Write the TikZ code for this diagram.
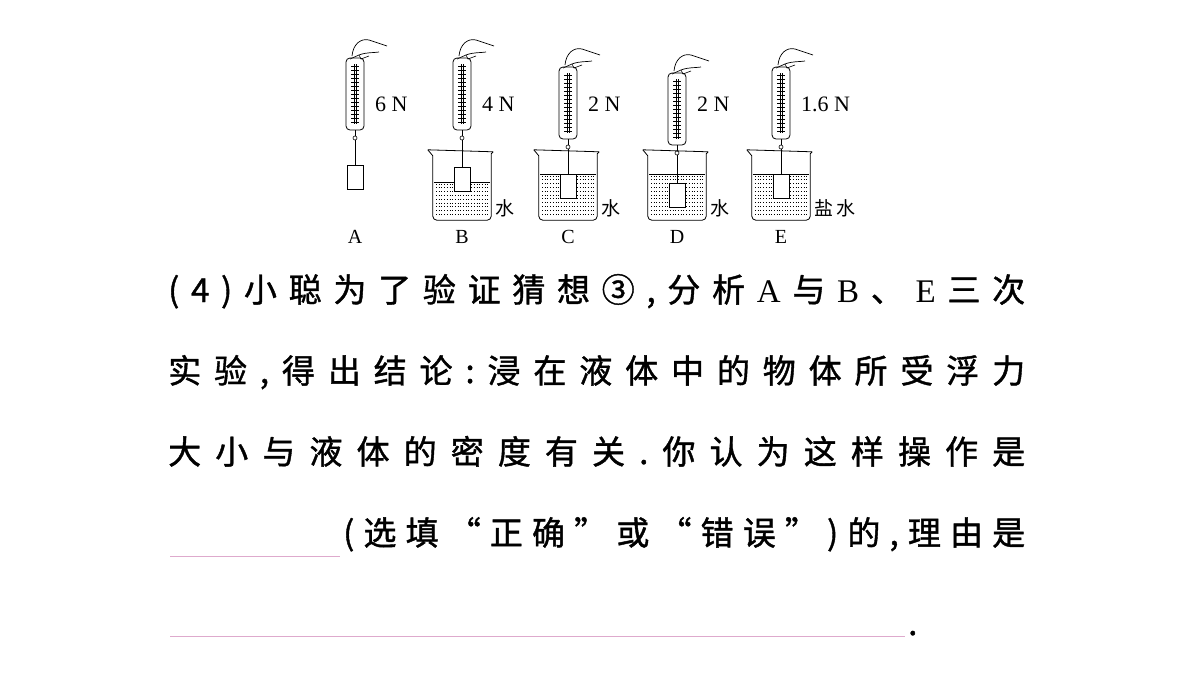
\documentclass[tikz,border=0pt]{standalone}
\usepackage{fontspec}
\setmainfont{Liberation Serif}
\newfontfamily\cjk[FakeBold=1.2]{Noto Sans CJK SC}
\newfontfamily\cjklabel{Noto Sans CJK SC}
\usetikzlibrary{positioning, calc}
\definecolor{blankline}{RGB}{222,170,205}
\ExplSyntaxOn
\NewDocumentCommand\spreadline{mm}{\makebox[#1][s]{\tl_map_inline:nn{#2}{##1\hfil}\unskip}}
\ExplSyntaxOff
\newcommand\serifA{{\rmfamily A}}
\newcommand\serifB{{\rmfamily B}}
\newcommand\serifE{{\rmfamily E}}
\tikzset{
  scalebody/.style={draw, rounded corners=4pt, minimum width=18pt, minimum height=72pt, inner sep=0pt, line width=0.8pt},
  block/.style={draw, fill=white, minimum width=16pt, minimum height=24pt, inner sep=0pt, line width=0.8pt},
  tag/.style={font=\fontsize{20pt}{20pt}\selectfont, inner sep=0pt},
  textline/.style={anchor=base west, inner sep=0pt, font=\fontsize{33pt}{33pt}\cjk},
}
\begin{document}
\begin{tikzpicture}[x=1pt, y=-1pt]
  \useasboundingbox (0,0) rectangle (1200,675);
  % cx / top of scale / top of block / letter / reading
  \foreach \cx/\st/\bt/\lt/\rd in {355/58/165/A/6 N, 462/58/167/B/4 N, 568/67/174/C/2 N, 677/73/183/D/2 N, 781/67/174/E/1.6 N}{
    % spring scale and hand
    \node (Scale\lt) at (\cx,\st+36) [scalebody] {};
    \draw[line width=0.6pt] (\cx-1,\st+6) -- (\cx-1,\st+66);
    \draw[line width=0.6pt] (\cx+1,\st+6) -- (\cx+1,\st+66);
    \foreach \k in {0,...,14}{ \draw[line width=0.4pt] (\cx-4,\st+8+\k*4) -- (\cx+4,\st+8+\k*4); }
    \draw[line width=0.7pt] (\cx-3,\st-2) .. controls (\cx-2,\st-14) and (\cx+6,\st-20) .. (\cx+14,\st-18)
      .. controls (\cx+20,\st-16) and (\cx+26,\st-14) .. (\cx+32,\st-12);
    \draw[line width=0.7pt] (\cx-5,\st+1) -- (\cx+4,\st-3) .. controls (\cx+12,\st-6) and (\cx+18,\st-5) .. (\cx+24,\st-6);
    \draw[line width=0.6pt] (\cx+4,\st-3) -- (\cx+6,\st+1) -- (\cx+14,\st-2);
    \node (Hook\lt) at (\cx,\st+80) [circle, draw, minimum size=4pt, inner sep=0pt, line width=0.6pt] {};
    \draw[line width=0.7pt] (Scale\lt.south) -- (Hook\lt.north);
    \node (Reading\lt) at (\cx+20,104) [tag, anchor=west, font=\fontsize{22pt}{22pt}\selectfont] {\rd};
    % block hanging on string
    \node (Block\lt) at (\cx,\bt+12) [block] {};
    \draw[line width=0.7pt] (Hook\lt.south) -- (Block\lt.north);
    \node (Letter\lt) at (\cx,237) [tag] {\lt};
  }
  % beakers with liquid
  \foreach \cx/\wl/\lt/\lq in {462/182/B/水, 568/174/C/水, 677/174/D/水, 781/174/E/盐\,水}{
    \foreach \k in {0,...,10}{
      \pgfmathsetmacro\yy{\wl+2+\k*3.8}
      \ifdim\yy pt<218pt
        \draw[dotted, line width=0.7pt] (\cx-26,\yy) -- (\cx+26,\yy);
      \fi
    }
    \draw[line width=0.7pt] (\cx-28,\wl) -- (\cx+28,\wl);
    \node (Beaker\lt) at (\cx,186) [minimum width=58pt, minimum height=68pt, inner sep=0pt] {};
    \draw[line width=0.8pt] ($(Beaker\lt.north west)+(-5,-2)$) -- ($(Beaker\lt.north west)+(0,4)$)
      -- ($(Beaker\lt.south west)+(0,-4)$) arc[start angle=180, end angle=270, radius=4pt]
      -- ($(Beaker\lt.south east)+(-4,0)$) arc[start angle=270, end angle=360, radius=4pt]
      -- ($(Beaker\lt.north east)+(0,2)$) -- ($(Beaker\lt.north east)+(2,0)$);
    \draw[line width=0.8pt] ($(Beaker\lt.north west)+(-5,-2)$) -- ($(Beaker\lt.north east)+(2,0)$);
    \node (Liquid\lt) at ($(Beaker\lt.south east)+(4,-12)$) [anchor=west, inner sep=0pt, font=\fontsize{19pt}{19pt}\cjklabel] {\lq};
  }
  % redraw blocks above the liquid
  \foreach \cx/\bt in {462/167, 568/174, 677/183, 781/174}{
    \node at (\cx,\bt+12) [block] {};
  }
  % question text
  \node (LineOne) at (168,302) [textline] {\spreadline{857pt}{(4)小聪为了验证猜想③,分析{\serifA}与{\serifB}、{\serifE}三次}};
  \node (LineTwo) at (168,383) [textline] {\spreadline{857pt}{实验,得出结论:浸在液体中的物体所受浮力}};
  \node (LineThree) at (168,464) [textline] {\spreadline{857pt}{大小与液体的密度有关.你认为这样操作是}};
  \node (LineFour) at (343,545) [textline] {\spreadline{682pt}{(选填“正确”或“错误”)的,理由是}};
  \node (LineFive) at (908,635) [textline] {.};
  \coordinate (BlankOneL) at (170,556);
  \coordinate (BlankOneR) at (340,556);
  \coordinate (BlankTwoL) at (170,636);
  \coordinate (BlankTwoR) at (905,636);
  \draw[blankline, line width=1pt] (BlankOneL) -- (BlankOneR);
  \draw[blankline, line width=1pt] (BlankTwoL) -- (BlankTwoR);
\end{tikzpicture}
\end{document}
